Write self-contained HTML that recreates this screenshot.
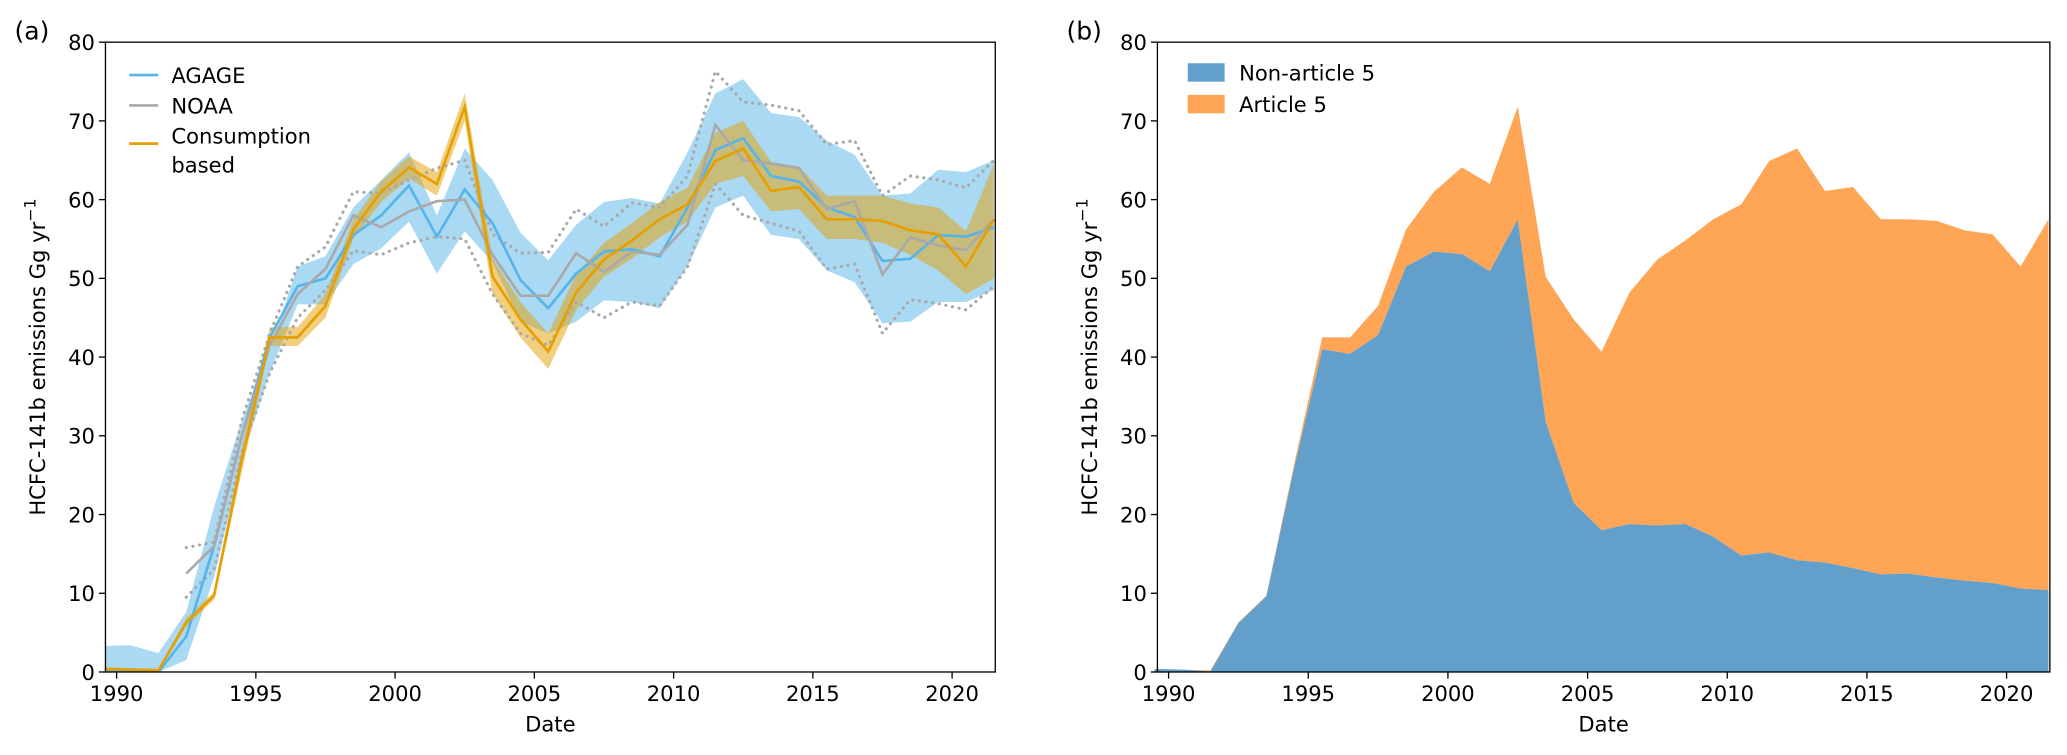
<!DOCTYPE html>
<html><head><meta charset="utf-8"><style>
html,body{margin:0;padding:0;background:#fff}
svg{display:block}
text{font-family:"DejaVu Sans","Liberation Sans",sans-serif;fill:#000}
</style></head><body>
<svg id="fig" width="2067" height="755" viewBox="0 0 1568 573" preserveAspectRatio="none" xmlns="http://www.w3.org/2000/svg"></svg>
<script>
const years=[1989.5,1990.5,1991.5,1992.5,1993.5,1994.5,1995.5,1996.5,1997.5,1998.5,1999.5,2000.5,2001.5,2002.5,2003.5,2004.5,2005.5,2006.5,2007.5,2008.5,2009.5,2010.5,2011.5,2012.5,2013.5,2014.5,2015.5,2016.5,2017.5,2018.5,2019.5,2020.5,2021.5];
const agage=[0,0,0,4.5,16,30,42.5,49,50,55.5,58,61.8,55.3,61.3,57,49.8,46.2,50.6,53.4,53.7,52.8,59,66.3,67.8,63,62.3,59,57.8,52.2,52.5,55.5,55.3,56.5];
const agageHi=[3.3,3.4,2.4,7.6,21,32,41,51.5,52.8,59,62.5,66,58,66.5,62.5,55.8,52.3,56.8,59.7,60.2,59.5,66,73.5,75.3,71,70.5,67.5,65.7,60.5,60.8,63.8,63.5,65];
const agageLo=[0,0,0,1.5,12,27,38,46.7,46.7,51.8,53.8,57.2,50.6,56,52,44.5,43,44.5,47.2,47,46.2,51.5,59,60.5,55.5,55,51,49.5,44.3,44.5,47,47,48.5];
const noaaYears=years.slice(3);
const noaa=[12.5,16,30,41.5,48,51.2,58,56.5,58.5,59.8,60,53,47.8,47.8,53.2,50.8,53.4,53,56.8,69.5,65,64.6,64,58.8,59.8,50.5,55.2,54.2,53.6,57.5];
const noaaHi=[15.8,16.5,32,43,51.5,54,61,60.8,62.5,64,65,55.6,53.2,53.3,58.8,56.6,59.6,59,63,76.3,72.4,72,71.3,67,67.5,60.5,63,62.5,61.5,65];
const noaaLo=[9.5,13,28,38,45,48.5,53.5,53,54.5,55.3,55,48,43,41.5,47,45,47,46.5,51.5,62,58,57,56,51.2,51.8,43,47.3,46.8,46,49];
const cons=[0.4,0.3,0.2,6.3,9.7,27,42.5,42.5,46.5,56.2,61,64.1,62,71.8,50.2,44.8,40.7,48.2,52.4,54.8,57.5,59.4,64.9,66.5,61.1,61.6,57.5,57.5,57.3,56.1,55.6,51.5,57.5];
const consHi=[0.6,0.5,0.4,6.8,10.2,28.5,43.8,43.8,48,57.5,62.3,65.5,63.5,73.5,52.5,47,43,50.5,54.5,57,59.7,61.5,68.5,70,64.8,64.2,60.5,60.5,60.5,59.5,59,56,64.5];
const consLo=[0.2,0.1,0,5.8,9.2,25.5,41.4,41.4,45,55,59.7,62.7,60.5,70,48,42.5,38.5,46,50.2,52.5,55.2,57.2,62,63,58.5,58.8,55,55,54.5,53,51,48,50];
const nonA5=[0.4,0.3,0.1,6.2,9.6,26,41,40.4,42.8,51.5,53.4,53.1,50.9,57.5,31.8,21.5,18,18.8,18.6,18.8,17.2,14.8,15.2,14.2,13.9,13.2,12.4,12.5,12,11.6,11.3,10.6,10.4];
const totalB=[0.4,0.3,0.2,6.3,9.7,26.5,42.5,42.5,46.5,56.2,61,64.1,62,71.8,50.2,44.8,40.7,48.2,52.4,54.8,57.5,59.4,64.9,66.5,61.1,61.6,57.5,57.5,57.3,56.1,55.6,51.5,57.5];
const xTicks=[1990,1995,2000,2005,2010,2015,2020];
const yTicks=[0,10,20,30,40,50,60,70,80];

const NS="http://www.w3.org/2000/svg";
const svg=document.getElementById('fig');
function mk(tag,attrs,parent){const e=document.createElementNS(NS,tag);for(const k in attrs)e.setAttribute(k,attrs[k]);(parent||svg).appendChild(e);return e;}
const X0=1989.6,X1=2021.55,TOP=32,BOT=510;
function axes(left,right){return{x:v=>left+(v-X0)/(X1-X0)*(right-left),y:v=>BOT-v/80*(BOT-TOP),left,right};}
function linePts(ax,xs,ys){return xs.map((x,i)=>ax.x(x).toFixed(2)+','+ax.y(ys[i]).toFixed(2)).join(' ');}
function bandPts(ax,xs,hi,lo){const a=xs.map((x,i)=>ax.x(x)+','+ax.y(hi[i]));const b=xs.map((x,i)=>ax.x(x)+','+ax.y(lo[i])).reverse();return a.concat(b).join(' ');}
function drawFrame(ax,g,label){
  mk('rect',{x:ax.left,y:TOP,width:ax.right-ax.left,height:BOT-TOP,fill:'none',stroke:'#000','stroke-width':1},g);
  xTicks.forEach(t=>{const x=ax.x(t);
    const l=mk('line',{x1:x,x2:x,y1:BOT,y2:BOT+5,stroke:'#000','stroke-width':1},g);
    const tx=mk('text',{x:x,y:BOT+22,'font-size':16,'text-anchor':'middle'},g);tx.textContent=t;});
  yTicks.forEach(t=>{const y=ax.y(t);
    const l=mk('line',{x1:ax.left-5,x2:ax.left,y1:y,y2:y,stroke:'#000','stroke-width':1},g);
    const tx=mk('text',{x:ax.left-8,y:y+6,'font-size':16,'text-anchor':'end'},g);tx.textContent=t;});
  const xl=mk('text',{x:(ax.left+ax.right)/2,y:BOT+45,'font-size':16,'text-anchor':'middle'},g);xl.textContent='Date';
  const yl=mk('text',{x:0,y:0,'font-size':16,'text-anchor':'middle',transform:`translate(${ax.left-46},${(TOP+BOT)/2}) rotate(-90)`},g);
  yl.innerHTML='HCFC-141b emissions Gg yr<tspan dy="-7" font-size="12">−1</tspan>';
  const pl=mk('text',{x:ax.left-69,y:TOP-2,'font-size':19},g);pl.textContent=label;
}
// Panel a
const A=axes(80,755);
const ga=mk('g',{});
mk('defs',{}).innerHTML='<clipPath id="ca"><rect x="80" y="32" width="675" height="478"/></clipPath>';
const gac=mk('g',{'clip-path':'url(#ca)'},ga);
let e;
e=mk('polygon',{points:bandPts(A,years,agageHi,agageLo),fill:'#56B4E9','fill-opacity':0.5},gac);
e=mk('polygon',{points:bandPts(A,years,consHi,consLo),fill:'#E69F00','fill-opacity':0.5},gac);
e=mk('polyline',{points:linePts(A,noaaYears,noaaHi),fill:'none',stroke:'#A9A9A9','stroke-width':2.4,'stroke-dasharray':'0.1 5','stroke-linecap':'round'},gac);
e=mk('polyline',{points:linePts(A,noaaYears,noaaLo),fill:'none',stroke:'#A9A9A9','stroke-width':2.4,'stroke-dasharray':'0.1 5','stroke-linecap':'round'},gac);
e=mk('polyline',{points:linePts(A,years,agage),fill:'none',stroke:'#56B4E9','stroke-width':2},gac);
e=mk('polyline',{points:linePts(A,noaaYears,noaa),fill:'none',stroke:'#A9A9A9','stroke-width':2},gac);
e=mk('polyline',{points:linePts(A,years,cons),fill:'none',stroke:'#E69F00','stroke-width':2},gac);
drawFrame(A,ga,'(a)');
const lg=mk('g',{},ga);
[['AGAGE','#56B4E9',57],['NOAA','#A9A9A9',80],['Consumption','#E69F00',109]].forEach(([t,c,y])=>{
  const l=mk('line',{x1:98,x2:120,y1:y,y2:y,stroke:c,'stroke-width':2},lg);
  const tx=mk('text',{x:130,y:t==='Consumption'?y-0:y+6,'font-size':16},lg);tx.textContent=t;
});
e=mk('text',{x:130,y:131,'font-size':16},lg);e.textContent='based';

// Panel b
const B=axes(878,1555);
const gb=mk('g',{});
e=mk('polygon',{points:bandPts(B,years,totalB,nonA5),fill:'#FFA556'},gb);
e=mk('polygon',{points:bandPts(B,years,nonA5,years.map(()=>0)),fill:'#62A0CB'},gb);
drawFrame(B,gb,'(b)');
const lb=mk('g',{},gb);
[['Non-article 5','#62A0CB',55],['Article 5','#FFA556',79]].forEach(([t,c,y])=>{
  const r=mk('rect',{x:901,y:y-7,width:28,height:14,fill:c},lb);
  const tx=mk('text',{x:940,y:y+6,'font-size':16},lb);tx.textContent=t;
});
</script>
</body></html>
